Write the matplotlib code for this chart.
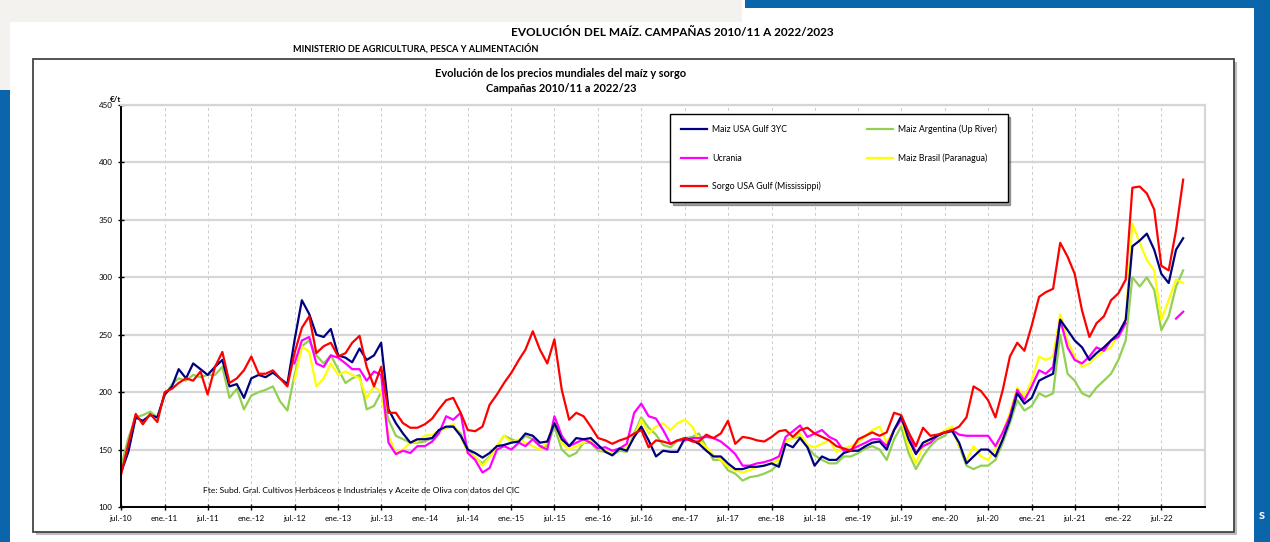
import numpy as np
import pandas as pd
import matplotlib
matplotlib.use("Agg")
import matplotlib.pyplot as plt
from matplotlib.patches import Rectangle

plt.rcParams['font.family'] = ['Lato', 'DejaVu Sans']

# monthly points, jul-2010 .. oct-2022
dates = pd.date_range('2010-07-01', periods=148, freq='MS')
nan = np.nan

usa_gulf = [130, 148, 178, 175, 180, 178,
            198, 205, 220, 212, 225, 220, 215, 222, 228, 205, 207, 195,
            212, 215, 213, 217, 212, 207, 245, 280, 268, 250, 248, 255,
            232, 230, 226, 238, 228, 232, 243, 185, 173, 164, 156, 159,
            159, 160, 167, 170, 170, 162, 150, 147, 143, 147, 153, 154,
            156, 157, 164, 162, 156, 157, 173, 159, 153, 160, 159, 160,
            154, 148, 145, 151, 149, 161, 170, 158, 144, 149, 148, 148,
            160, 158, 155, 149, 144, 144, 138, 133, 133, 135, 135, 136,
            138, 135, 155, 152, 160, 152, 136, 144, 141, 141, 147, 149,
            149, 153, 156, 157, 150, 167, 179, 159, 146, 156, 159, 162,
            165, 166, 156, 138, 144, 150, 150, 144, 159, 176, 199, 190,
            195, 210, 213, 216, 263, 254, 245, 239, 228, 234, 239, 245,
            251, 263, 327, 332, 338, 324, 303, 295, 324, 334]

argentina = [135, 160, 178, 180, 183, 178,
             197, 207, 212, 210, 215, 213, 215, 215, 222, 195, 203, 185,
             197, 200, 202, 205, 192, 184, 215, 240, 245, 232, 225, 232,
             220, 208, 212, 215, 185, 188, 200, 176, 162, 159, 156, 156,
             157, 160, 166, 169, 170, 164, 150, 143, 138, 144, 153, 162,
             159, 156, 162, 159, 153, 153, 170, 150, 144, 147, 156, 156,
             149, 148, 145, 149, 148, 164, 178, 169, 163, 154, 152, 158,
             160, 161, 164, 152, 141, 141, 132, 129, 123, 126, 127, 129,
             132, 138, 158, 160, 161, 152, 145, 141, 138, 138, 144, 144,
             147, 151, 153, 150, 141, 159, 170, 147, 133, 144, 153, 159,
             162, 169, 153, 136, 133, 136, 136, 141, 156, 173, 193, 184,
             188, 199, 196, 199, 250, 216, 210, 199, 196, 204, 210, 216,
             228, 245, 300, 292, 300, 289, 254, 266, 292, 306]

ucrania = [nan, nan, nan, nan, nan, nan,
           nan, nan, nan, nan, nan, nan, nan, nan, nan, nan, nan, nan,
           nan, nan, nan, nan, nan, nan, 225, 245, 248, 225, 222, 232,
           230, 225, 220, 220, 210, 218, 215, 156, 146, 149, 147, 153,
           153, 157, 164, 179, 176, 182, 147, 141, 130, 134, 150, 153,
           150, 156, 153, 159, 153, 150, 179, 162, 153, 156, 159, 156,
           151, 152, 149, 151, 155, 182, 190, 179, 177, 167, 155, 158,
           158, 160, 160, 161, 160, 157, 152, 146, 136, 136, 138, 139,
           141, 144, 161, 166, 171, 161, 164, 167, 161, 158, 149, 150,
           153, 156, 159, 159, 153, 167, 176, 165, 147, 153, 156, 162,
           165, 167, 163, 162, 162, 162, 162, 153, 165, 179, 202, 193,
           205, 219, 216, 222, 263, 239, 228, 225, 231, 239, 236, 245,
           248, 260, nan, nan, nan, nan, nan, nan, 264, 270]

brasil = [nan, nan, nan, nan, nan, nan,
          nan, nan, nan, nan, nan, nan, nan, nan, nan, nan, nan, nan,
          nan, nan, nan, nan, nan, nan, 210, 240, 235, 205, 212, 225,
          215, 218, 215, 212, 195, 205, 200, 162, 147, 150, 156, 157,
          162, 163, 166, 169, 172, 162, 147, 144, 136, 143, 153, 162,
          156, 159, 156, 153, 150, 156, 176, 156, 150, 153, 156, 159,
          151, 149, 146, 151, 152, 161, 176, 164, 170, 173, 167, 173,
          176, 170, 158, 152, 145, 141, 135, 132, 130, 132, 135, 136,
          138, 141, 157, 160, 164, 154, 152, 155, 158, 148, 151, 153,
          156, 162, 167, 170, 156, 167, 176, 153, 138, 153, 159, 162,
          167, 170, 153, 141, 153, 144, 141, 150, 165, 182, 204, 196,
          210, 231, 228, 231, 268, 245, 231, 222, 225, 231, 236, 239,
          251, 263, 347, 330, 315, 306, 263, 280, 298, 295]

sorgo = [128, 155, 181, 172, 181, 174,
         200, 203, 208, 212, 210, 218, 198, 222, 235, 208, 212, 219,
         231, 216, 216, 219, 212, 205, 234, 256, 266, 234, 240, 243,
         231, 234, 243, 249, 222, 205, 222, 182, 182, 173, 169, 169,
         172, 177, 185, 193, 195, 182, 167, 166, 170, 189, 198, 208,
         217, 228, 237, 253, 237, 225, 246, 202, 176, 182, 179, 170,
         160, 158, 155, 158, 160, 164, 167, 152, 158, 157, 155, 158,
         160, 157, 157, 163, 160, 164, 175, 155, 161, 160, 158, 157,
         161, 166, 167, 161, 167, 169, 164, 161, 158, 153, 151, 149,
         159, 162, 165, 162, 165, 182, 180, 165, 153, 169, 162, 163,
         165, 167, 170, 178, 205, 201, 193, 178, 202, 231, 243, 236,
         258, 283, 287, 290, 330, 318, 303, 271, 248, 260, 266, 280,
         286, 298, 378, 379, 373, 359, 310, 306, 341, 385]

tick_dates = pd.date_range('2010-07-01', '2022-07-01', freq='6MS')
tick_labels = ['jul.-10', 'ene.-11', 'jul.-11', 'ene.-12', 'jul.-12', 'ene.-13',
               'jul.-13', 'ene.-14', 'jul.-14', 'ene.-15', 'jul.-15', 'ene.-16',
               'jul.-16', 'ene.-17', 'jul.-17', 'ene.-18', 'jul.-18', 'ene.-19',
               'jul.-19', 'ene.-20', 'jul.-20', 'ene.-21', 'jul.-21', 'ene.-22',
               'jul.-22']

W, H = 1270, 542
fig = plt.figure(figsize=(W / 100, H / 100), dpi=100)
fig.patch.set_facecolor('white')


def px_rect(x0, y0, x1, y1, **kw):
    return Rectangle((x0 / W, 1 - y1 / H), (x1 - x0) / W, (y1 - y0) / H,
                     transform=fig.transFigure, zorder=-5, **kw)


# slide background bits
blue = '#0b65ab'
fig.add_artist(px_rect(0, 0, 742, 22, facecolor='#f3f2ef', edgecolor='none'))
fig.add_artist(px_rect(0, 22, 10, 90, facecolor='#f3f2ef', edgecolor='none'))
fig.add_artist(px_rect(0, 90, 10, 542, facecolor=blue, edgecolor='none'))
fig.add_artist(px_rect(745, 0, 1270, 8, facecolor=blue, edgecolor='none'))
fig.add_artist(px_rect(1254, 0, 1270, 542, facecolor=blue, edgecolor='none'))
fig.text(1262 / W, 1 - 515 / H, 's', color='white', fontsize=10, fontweight='bold',
         ha='center', va='center')

# chart box with shadow
fig.add_artist(px_rect(36, 62, 1237, 535, facecolor='#bdbdbd', edgecolor='none'))
fig.add_artist(px_rect(33, 59, 1234, 532, facecolor='white', edgecolor='#444444', lw=1.3))

fig.text(672 / W, 1 - 32 / H, 'EVOLUCIÓN DEL MAÍZ. CAMPAÑAS 2010/11 A 2022/2023',
         fontsize=8.5, fontweight='bold', ha='center', va='center')
fig.text(416 / W, 1 - 48 / H, 'MINISTERIO DE AGRICULTURA, PESCA Y ALIMENTACIÓN',
         fontsize=6.6, fontweight='bold', ha='center', va='center')
fig.text(561 / W, 1 - 73 / H, 'Evolución de los precios mundiales del maíz y sorgo',
         fontsize=7.9, fontweight='bold', ha='center', va='center')
fig.text(561 / W, 1 - 88 / H, 'Campañas 2010/11 a 2022/23',
         fontsize=7.9, fontweight='bold', ha='center', va='center')
fig.text(116 / W, 1 - 100 / H, '€/t', fontsize=5.8, fontweight='bold',
         ha='center', va='center')
fig.text(361 / W, 1 - 490 / H,
         'Fte: Subd. Gral. Cultivos Herbáceos e Industriales y Aceite de Oliva con datos del CIC',
         fontsize=6.1, ha='center', va='center', zorder=10)

ax = fig.add_axes([121 / W, 1 - 507 / H, (1205 - 121) / W, (507 - 105) / H])
ax.set_facecolor('white')

l_arg, = ax.plot(dates, argentina, color='#92d050', lw=1.6, label='Maiz Argentina (Up River)')
l_bra, = ax.plot(dates, brasil, color='#ffff00', lw=1.6, label='Maiz Brasil (Paranagua)')
l_ucr, = ax.plot(dates, ucrania, color='#ff00ff', lw=1.6, label='Ucrania')
l_usa, = ax.plot(dates, usa_gulf, color='#000080', lw=1.6, label='Maiz USA Gulf 3YC')
l_sor, = ax.plot(dates, sorgo, color='#ff0000', lw=1.6, label='Sorgo USA Gulf (Mississippi)')

ax.set_ylim(100, 450)
ax.set_yticks(np.arange(100, 451, 50))
ax.set_xlim(pd.Timestamp('2010-07-01'), pd.Timestamp('2023-01-01'))
ax.set_xticks(tick_dates)
ax.set_xticklabels(tick_labels)
ax.tick_params(axis='both', labelsize=5.8, direction='inout', length=4, width=1, pad=4)

ax.yaxis.grid(True, color='#d6d6d6', lw=1.6, ls='-')
ax.xaxis.grid(True, color='#cccccc', lw=0.7, ls=(0, (3, 3)))
ax.set_axisbelow(True)
for side in ['left', 'bottom']:
    ax.spines[side].set_color('black')
    ax.spines[side].set_linewidth(1.4)
for side in ['top', 'right']:
    ax.spines[side].set_color('#d6d6d6')
    ax.spines[side].set_linewidth(1.6)

leg = ax.legend(handles=[l_usa, l_ucr, l_sor, l_arg, l_bra], ncol=2,
                loc='upper left', bbox_to_anchor=(666 / W, 1 - 110 / H),
                bbox_transform=fig.transFigure, fontsize=6.3, handlelength=3,
                handletextpad=0.6, labelspacing=2.2, columnspacing=5.2, borderpad=1.2,
                fancybox=False, shadow=True, framealpha=1)
leg.get_frame().set_edgecolor('black')
leg.get_frame().set_linewidth(1)

fig.savefig('out.png', dpi=100)
